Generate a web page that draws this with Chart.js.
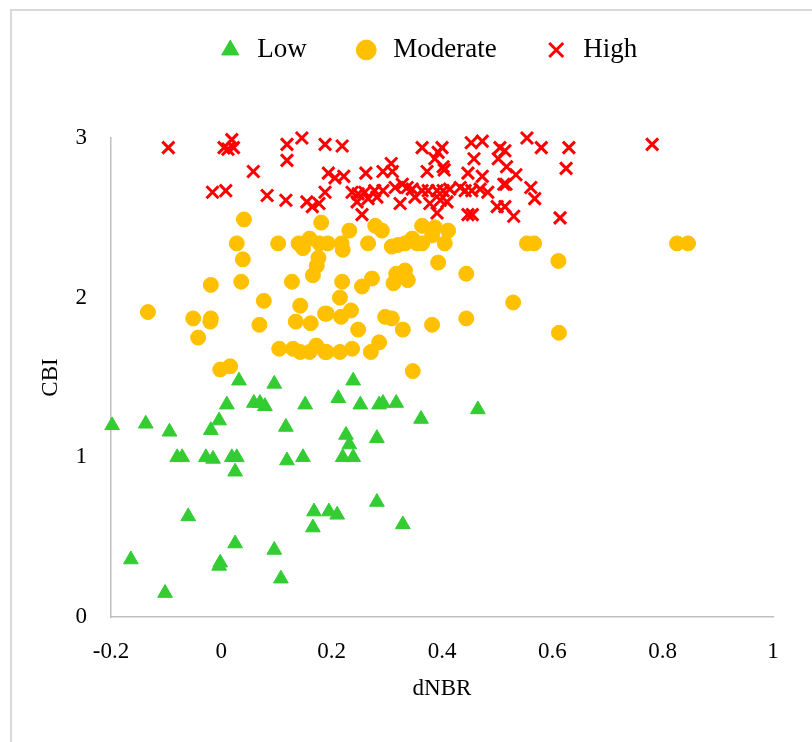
<!DOCTYPE html>
<html>
<head>
<meta charset="utf-8">
<script src="https://cdn.jsdelivr.net/npm/chart.js@4/dist/chart.umd.min.js"></script>
<style>
  html, body { margin: 0; padding: 0; background: #fff; overflow: hidden; }
  #wrap { position: relative; width: 812px; height: 742px; }
  #frame { position: absolute; left: 10px; top: 9px; width: 900px; height: 900px;
           border-top: 2px solid #d9d9d9; border-left: 2px solid #d9d9d9; pointer-events: none; }
  canvas { position: absolute; left: 0; top: 0; }
</style>
</head>
<body>
<div id="wrap">
  <canvas id="chart" width="812" height="742"></canvas>
  <div id="frame"></div>
</div>
<script>
const xTicks = [-0.2, 0, 0.2, 0.4, 0.6, 0.8, 1];
const yTicks = [0, 1, 2, 3];

const lowX = [-0.198, -0.137, -0.094, -0.080, -0.071, -0.028, -0.015, 0.019, 0.028, 0.025,
  -0.019, -0.004, 0.010, 0.032, 0.059, 0.070, 0.079, 0.096, 0.117, 0.119,
  -0.060, -0.164, -0.102, -0.002, -0.004, 0.025, 0.096, 0.108, 0.152, 0.212,
  0.239, 0.252, 0.286, 0.293, 0.317, 0.362, 0.465, 0.226, 0.232, 0.282,
  0.148, 0.220, 0.239, 0.282, 0.168, 0.195, 0.210, 0.166, 0.329];
const lowY = [1.20, 1.21, 1.16, 1.00, 1.00, 1.00, 0.99, 1.00, 1.00, 0.91,
  1.17, 1.23, 1.33, 1.48, 1.34, 1.34, 1.32, 1.46, 1.19, 0.98,
  0.63, 0.36, 0.15, 0.34, 0.32, 0.46, 0.42, 0.24, 1.33, 1.37,
  1.48, 1.33, 1.33, 1.34, 1.34, 1.24, 1.30, 1.14, 1.08, 1.12,
  1.00, 1.00, 1.00, 0.72, 0.66, 0.66, 0.64, 0.56, 0.58];

const modX = [0.041, 0.181, 0.028, 0.103, 0.140, 0.148, 0.160, 0.039, 0.176, 0.166,
  0.173, -0.019, 0.036, 0.128, 0.077, 0.143, 0.188, -0.133, -0.051, -0.019,
  -0.020, -0.042, 0.069, 0.135, 0.162, 0.105, 0.130, 0.143, 0.160, 0.172,
  0.188, -0.002, 0.016, 0.232, 0.279, 0.291, 0.364, 0.387, 0.411, 0.382,
  0.405, 0.193, 0.218, 0.220, 0.266, 0.309, 0.320, 0.346, 0.333, 0.364,
  0.355, 0.393, 0.444, 0.554, 0.567, 0.611, 0.612, 0.826, 0.846, 0.529,
  0.219, 0.255, 0.273, 0.312, 0.317, 0.333, 0.338, 0.215, 0.191, 0.217,
  0.235, 0.297, 0.309, 0.444, 0.248, 0.329, 0.382, 0.191, 0.215, 0.237,
  0.271, 0.286, 0.347, 0.178];
const modY = [2.49, 2.47, 2.34, 2.34, 2.34, 2.31, 2.37, 2.24, 2.25, 2.14,
  2.20, 2.08, 2.10, 2.10, 1.98, 1.95, 1.90, 1.91, 1.87, 1.87,
  1.85, 1.75, 1.83, 1.85, 1.84, 1.68, 1.68, 1.66, 1.66, 1.70,
  1.66, 1.55, 1.57, 2.42, 2.45, 2.42, 2.45, 2.44, 2.42, 2.39,
  2.34, 2.34, 2.34, 2.30, 2.34, 2.32, 2.33, 2.37, 2.34, 2.34,
  2.34, 2.22, 2.15, 2.34, 2.34, 2.23, 1.78, 2.34, 2.34, 1.97,
  2.10, 2.07, 2.12, 2.09, 2.15, 2.17, 2.11, 2.00, 1.90, 1.88,
  1.92, 1.88, 1.87, 1.87, 1.80, 1.80, 1.83, 1.66, 1.66, 1.68,
  1.66, 1.72, 1.54, 2.34];

const highX = [-0.096, 0.019, 0.005, 0.022, 0.012, 0.119, 0.146, 0.188, 0.119, 0.058,
  -0.016, 0.008, 0.083, 0.117, 0.155, 0.165, 0.177, 0.188, 0.194, 0.219,
  0.364, 0.400, 0.393, 0.387, 0.453, 0.473, 0.505, 0.502, 0.308, 0.458,
  0.373, 0.402, 0.404, 0.293, 0.262, 0.222, 0.206, 0.310, 0.447, 0.473,
  0.512, 0.237, 0.248, 0.260, 0.278, 0.293, 0.315, 0.328, 0.337, 0.346,
  0.364, 0.375, 0.391, 0.402, 0.414, 0.433, 0.442, 0.454, 0.469, 0.483,
  0.246, 0.266, 0.282, 0.324, 0.351, 0.378, 0.397, 0.409, 0.255, 0.391,
  0.447, 0.455, 0.500, 0.554, 0.580, 0.630, 0.781, 0.514, 0.517, 0.534,
  0.516, 0.625, 0.561, 0.568, 0.514, 0.530, 0.614];
const highY = [2.94, 2.99, 2.94, 2.94, 2.93, 2.96, 3.00, 2.96, 2.86, 2.79,
  2.66, 2.67, 2.64, 2.61, 2.60, 2.57, 2.59, 2.66, 2.78, 2.95,
  2.94, 2.94, 2.91, 2.87, 2.97, 2.98, 2.94, 2.87, 2.84, 2.87,
  2.79, 2.82, 2.80, 2.79, 2.78, 2.76, 2.75, 2.79, 2.78, 2.76,
  2.71, 2.66, 2.65, 2.66, 2.67, 2.67, 2.69, 2.71, 2.69, 2.68,
  2.67, 2.67, 2.67, 2.67, 2.68, 2.69, 2.67, 2.67, 2.68, 2.66,
  2.60, 2.62, 2.63, 2.59, 2.63, 2.59, 2.61, 2.60, 2.52, 2.53,
  2.52, 2.52, 2.57, 3.00, 2.94, 2.94, 2.96, 2.92, 2.82, 2.77,
  2.71, 2.81, 2.69, 2.62, 2.57, 2.51, 2.50];

function toPoints(xs, ys) {
  return xs.map((x, i) => ({ x: x, y: ys[i] }));
}

const font = 'Liberation Serif, Times New Roman, serif';

// push the plot down below the legend and nudge the legend a bit left
const legendGap = {
  id: 'legendGap',
  beforeInit(chart) {
    const legend = chart.legend;
    const fit = legend.fit;
    legend.fit = function () {
      fit.call(this);
      this.height = 149.5;
    };
    const draw = legend.draw;
    legend.draw = function () {
      this.ctx.save();
      this.ctx.translate(-15, 2);
      draw.call(this);
      this.ctx.restore();
    };
  }
};

const tickText = (v) => String(Math.round(v * 10) / 10);

new Chart(document.getElementById('chart').getContext('2d'), {
  type: 'scatter',
  data: {
    datasets: [{
      label: 'Low',
      data: toPoints(lowX, lowY),
      pointStyle: 'triangle',
      pointRadius: 8.5,
      backgroundColor: '#33CC33',
      borderColor: '#33CC33',
      borderWidth: 1,
      clip: false
    }, {
      label: 'Moderate',
      data: toPoints(modX, modY),
      pointStyle: 'circle',
      pointRadius: 7.5,
      backgroundColor: '#FFC000',
      borderColor: '#FFC000',
      borderWidth: 1,
      clip: false
    }, {
      label: 'High',
      data: toPoints(highX, highY),
      pointStyle: 'crossRot',
      pointRadius: 8.5,
      backgroundColor: '#FF0000',
      borderColor: '#FF0000',
      borderWidth: 3,
      clip: false
    }]
  },
  options: {
    responsive: false,
    animation: false,
    layout: { padding: { top: -11.5, left: 33, right: 39, bottom: 35 } },
    plugins: {
      tooltip: { enabled: false },
      legend: {
        position: 'top',
        fullSize: false,
        labels: {
          usePointStyle: true,
          boxHeight: 14,
          boxWidth: 27,
          padding: 46,
          color: '#000',
          font: { family: font, size: 27 }
        }
      }
    },
    scales: {
      x: {
        type: 'linear',
        min: -0.2,
        max: 1,
        afterBuildTicks: (scale) => { scale.ticks = xTicks.map(v => ({ value: v })); },
        afterFit: (scale) => { scale.height = 90; },
        grid: { display: false, drawTicks: false },
        border: { color: '#BFBFBF', width: 1.5 },
        ticks: { padding: 21, color: '#000', font: { family: font, size: 23 }, callback: tickText },
        title: { display: true, text: 'dNBR', color: '#000', font: { family: font, size: 23 } }
      },
      y: {
        type: 'linear',
        min: 0,
        max: 3,
        afterBuildTicks: (scale) => { scale.ticks = yTicks.map(v => ({ value: v })); },
        afterFit: (scale) => { scale.width = 78; },
        grid: { display: false, drawTicks: false },
        border: { color: '#BFBFBF', width: 1.5 },
        ticks: { padding: 24, color: '#000', font: { family: font, size: 23 }, callback: tickText },
        title: { display: true, text: 'CBI', color: '#000', font: { family: font, size: 23 } }
      }
    }
  },
  plugins: [legendGap]
});
</script>
</body>
</html>
